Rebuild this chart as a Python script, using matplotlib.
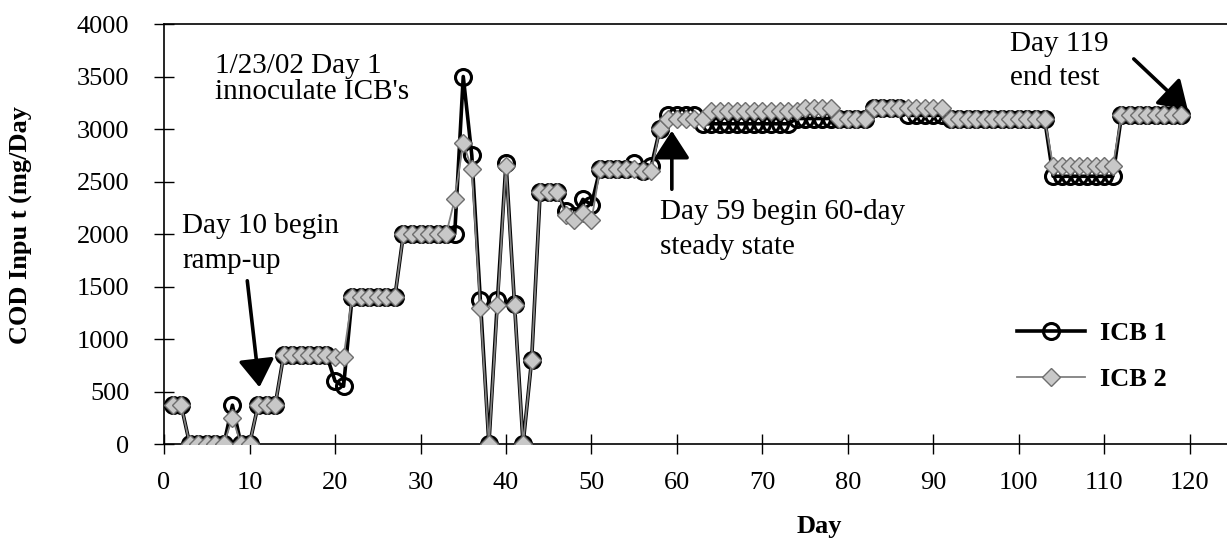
import matplotlib
matplotlib.use("Agg")
import matplotlib.pyplot as plt

plt.rcParams['font.family'] = ['Liberation Serif', 'DejaVu Serif']

# daily COD input, days 1-119
days = list(range(1, 120))

icb1 = [370, 370, 0, 0, 0, 0, 0, 370, 0, 0,
        370, 370, 370, 850, 850, 850, 850, 850, 850, 600,
        550, 1400, 1400, 1400, 1400, 1400, 1400, 2000, 2000, 2000,
        2000, 2000, 2000, 2000, 3500, 2750, 1370, 0, 1370, 2680,
        1330, 0, 800, 2400, 2400, 2400, 2220, 2170, 2330, 2280,
        2620, 2620, 2620, 2620, 2680, 2600, 2650, 3000, 3130, 3130,
        3130, 3130, 3050, 3050, 3050, 3050, 3050, 3050, 3050, 3050,
        3050, 3050, 3050, 3100, 3100, 3100, 3100, 3100, 3100, 3100,
        3100, 3100, 3200, 3200, 3200, 3200, 3130, 3130, 3130, 3130,
        3130, 3100, 3100, 3100, 3100, 3100, 3100, 3100, 3100, 3100,
        3100, 3100, 3100, 2550, 2550, 2550, 2550, 2550, 2550, 2550,
        2550, 3130, 3130, 3130, 3130, 3130, 3130, 3130, 3130]

icb2 = [370, 370, 0, 0, 0, 0, 0, 250, 0, 0,
        370, 370, 370, 850, 850, 850, 850, 850, 850, 830,
        830, 1400, 1400, 1400, 1400, 1400, 1400, 2000, 2000, 2000,
        2000, 2000, 2000, 2330, 2870, 2620, 1300, 0, 1320, 2650,
        1320, 0, 800, 2400, 2400, 2400, 2180, 2130, 2200, 2130,
        2620, 2620, 2620, 2620, 2620, 2600, 2600, 3000, 3100, 3100,
        3100, 3100, 3100, 3170, 3170, 3170, 3170, 3170, 3170, 3170,
        3170, 3170, 3170, 3170, 3200, 3200, 3200, 3200, 3100, 3100,
        3100, 3100, 3200, 3200, 3200, 3200, 3200, 3200, 3200, 3200,
        3200, 3100, 3100, 3100, 3100, 3100, 3100, 3100, 3100, 3100,
        3100, 3100, 3100, 2650, 2650, 2650, 2650, 2650, 2650, 2650,
        2650, 3130, 3130, 3130, 3130, 3130, 3130, 3130, 3130]

fig = plt.figure(figsize=(12.27, 5.5), dpi=100)
ax = fig.add_axes([0.1337, 0.1927, 0.866, 0.7636])

ax.plot(days, icb1, color='black', linewidth=2.6, marker='o', markersize=11.5,
        markerfacecolor='none', markeredgecolor='black', markeredgewidth=2.2,
        label='ICB 1', zorder=3)
ax.plot(days, icb2, color='#808080', linewidth=1.3, marker='D', markersize=9,
        markerfacecolor='#c8c8c8', markeredgecolor='#6e6e6e', markeredgewidth=1,
        label='ICB 2', zorder=4)

ax.set_xlim(0, 124.3)
ax.set_ylim(0, 4000)
ax.set_xticks(range(0, 121, 10))
ax.set_yticks(range(0, 4001, 500))
ax.tick_params(axis='y', direction='inout', length=14, width=1, labelsize=19, pad=18)
ax.tick_params(axis='x', direction='inout', length=14, width=1, labelsize=19, pad=13)
ax.spines['right'].set_visible(False)
for s in ['left', 'bottom', 'top']:
    ax.spines[s].set_linewidth(1.2)

ax.set_ylabel('COD Inpu t (mg/Day', fontsize=19, fontweight='bold')
ax.yaxis.set_label_coords(-0.123, 0.521)
fig.text(0.668, 0.042, 'Day', fontsize=19, fontweight='bold', ha='center', va='center')

# annotations
arrow = dict(arrowstyle='-|>,head_length=1.7,head_width=1.1', color='black', lw=2.6)
ax.text(6.0, 3720, "1/23/02 Day 1\ninnoculate ICB's", fontsize=21, va='top',
        linespacing=0.98)
ax.text(2.1, 2200, "Day 10 begin\nramp-up", fontsize=21, va='top', linespacing=1.45)
ax.annotate('', xy=(11.2, 514), xytext=(9.7, 1581), arrowprops=arrow)
ax.text(58.0, 2335, "Day 59 begin 60-day\nsteady state", fontsize=21, va='top',
        linespacing=1.45)
ax.annotate('', xy=(59.4, 3010), xytext=(59.4, 2400), arrowprops=arrow)
ax.text(99.0, 3935, "Day 119\nend test", fontsize=21, va='top', linespacing=1.42)
ax.annotate('', xy=(120.0, 3162), xytext=(113.2, 3686), arrowprops=arrow)

leg = ax.legend(loc='center left', bbox_to_anchor=(0.803, 0.208), frameon=False,
                prop={'size': 19, 'weight': 'bold'}, handlelength=2.55,
                handletextpad=0.6, labelspacing=0.85, borderpad=0, borderaxespad=0)

fig.savefig('out.png', dpi=100)
